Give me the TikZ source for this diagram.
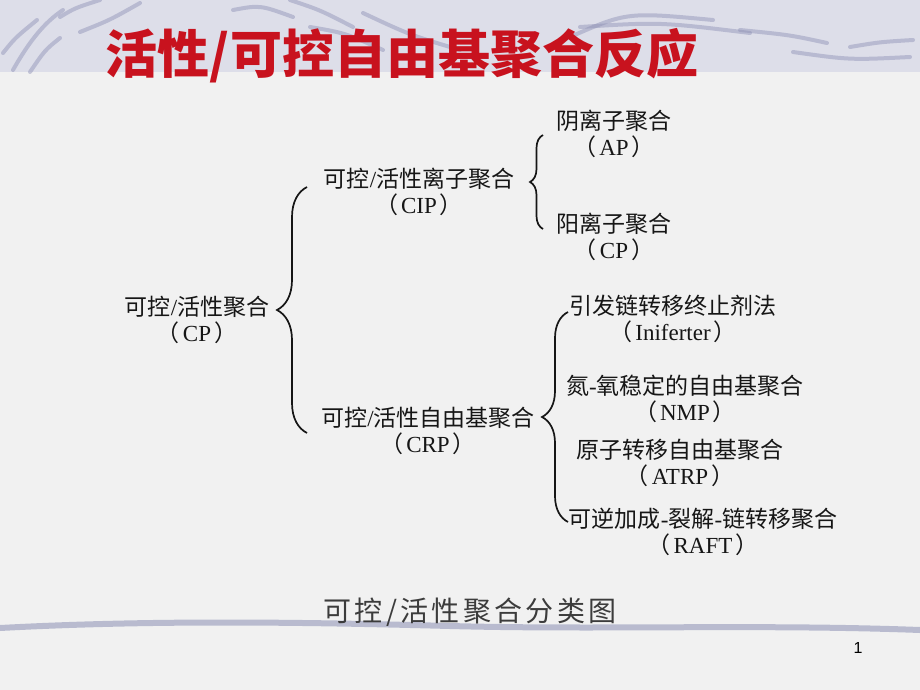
\documentclass[tikz,border=0pt]{standalone}
\usepackage{fontspec}
\usepackage{tikz}
\usetikzlibrary{decorations.pathreplacing}
\setmainfont{Liberation Serif}
\newfontfamily\cjk{Noto Sans CJK SC}
\newfontfamily\cjkcap{Noto Sans CJK SC}[LetterSpace=12]
\newfontfamily\pagefont{Liberation Sans}
\newcommand{\zh}[1]{{\cjk #1}}
\newcommand{\lpar}{\zh{（}\kern3pt}
\newcommand{\rpar}{\kern3pt\zh{）}}
\definecolor{title_red}{RGB}{200,18,30}
\definecolor{band_lilac}{RGB}{221,222,233}
\definecolor{paper_gray}{RGB}{241,241,241}
\definecolor{wave_blue}{RGB}{140,143,180}
\definecolor{text_black}{RGB}{22,22,22}
\definecolor{cap_gray}{RGB}{60,60,60}

\begin{document}
\begin{tikzpicture}[x=1pt,y=-1pt]
    \tikzstyle{item}=[align=center, inner sep=0pt, text=text_black, font=\fontsize{23}{25.5}\selectfont]
    \tikzstyle{curly}=[draw=text_black, line width=1.7pt, decorate, decoration={brace}]
    \tikzstyle{wave}=[draw=wave_blue, line width=4pt, line cap=round, opacity=0.45]

    % slide background
    \fill[paper_gray] (0,0) rectangle (920,690);
    \fill[band_lilac] (0,0) rectangle (920,72);
    \useasboundingbox (0,0) rectangle (920,690);
    \draw[wave] (3,53) .. controls (15,38) .. (37,20);
    \draw[wave] (13,70) .. controls (30,40) and (45,22) .. (63,10);
    \draw[wave] (30,72) .. controls (45,50) .. (60,38);
    \draw[wave] (60,17) .. controls (75,8) .. (100,0);
    \draw[wave] (80,32) .. controls (110,20) .. (140,3);
    \draw[wave] (233,10) .. controls (260,5) .. (293,17);
    \draw[wave] (290,0) .. controls (320,10) .. (353,27);
    \draw[wave] (310,27) .. controls (345,33) .. (383,50);
    \draw[wave] (363,13) .. controls (410,35) .. (460,50);
    \draw[wave] (570,37) .. controls (627,12) .. (713,20);
    \draw[wave] (580,27) .. controls (660,22) .. (750,33);
    \draw[wave] (740,30) .. controls (790,35) .. (827,43);
    \draw[wave] (793,52) .. controls (850,60) .. (910,57);
    \draw[wave] (850,47) .. controls (880,42) .. (913,40);
    \draw[wave, line width=6pt, opacity=0.55] (0,628) .. controls (150,620) and (300,622) .. (450,626)
        .. controls (600,630) and (760,624) .. (920,630);

    \node[text=title_red, inner sep=0pt, font=\cjk\bfseries\fontsize{52}{52}\selectfont] (title) at (402,56) {活性/可控自由基聚合反应};

    % classification tree
    \node[item] (cp)        at (197,320) {\zh{可控}/\zh{活性聚合}\\\lpar CP\rpar};
    \node[item] (cip)       at (419,192) {\zh{可控}/\zh{活性离子聚合}\\\lpar CIP\rpar};
    \node[item] (crp)       at (428,431) {\zh{可控}/\zh{活性自由基聚合}\\\lpar CRP\rpar};
    \node[item] (anion)     at (614,134) {\zh{阴离子聚合}\\\lpar AP\rpar};
    \node[item] (cation)    at (614,237) {\zh{阳离子聚合}\\\lpar CP\rpar};
    \node[item] (iniferter) at (673,319) {\zh{引发链转移终止剂法}\\\lpar Iniferter\rpar};
    \node[item] (nmp)       at (685,399) {\zh{氮}-\zh{氧稳定的自由基聚合}\\\lpar NMP\rpar};
    \node[item] (atrp)      at (680,463) {\zh{原子转移自由基聚合}\\\lpar ATRP\rpar};
    \node[item] (raft)      at (703,532) {\zh{可逆加成}-\zh{裂解}-\zh{链转移聚合}\\\lpar RAFT\rpar};

    \coordinate (cptop)  at (307,187);
    \coordinate (cpbot)  at (307,433);
    \coordinate (ciptop) at (543,135);
    \coordinate (cipbot) at (543,229);
    \coordinate (crptop) at (568,312);
    \coordinate (crpbot) at (568,522);
    \path
     (cpbot)  edge[curly, decoration={amplitude=30pt}] (cptop)
     (cipbot) edge[curly, decoration={amplitude=13pt}] (ciptop)
     (crpbot) edge[curly, decoration={amplitude=26pt}] (crptop)
     ;

    \node[text=cap_gray, inner sep=0pt, font=\cjkcap\fontsize{28}{28}\selectfont] (caption) at (470,612) {可控/活性聚合分类图};
    \node[inner sep=0pt, font=\pagefont\fontsize{16}{16}\selectfont] (pagenum) at (858,648) {1};
\end{tikzpicture}
\end{document}
